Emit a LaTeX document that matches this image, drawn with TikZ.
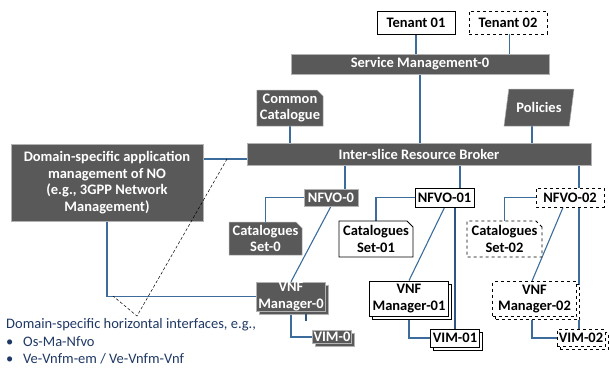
\documentclass[tikz,border=0pt]{standalone}
\usepackage{fontspec}
\setmainfont{Carlito}
\usetikzlibrary{shapes.misc,shapes.geometric,shadows,backgrounds}
\definecolor{boxgray}{HTML}{595959}
\definecolor{linkblue}{HTML}{3B6C9C}
\definecolor{darklink}{HTML}{2F5583}
\definecolor{navytext}{HTML}{1F3864}
\begin{document}
\begin{tikzpicture}[x=1pt,y=-1pt,
  base/.style={inner sep=0pt, align=center, font=\fontsize{14.5}{16.7}\selectfont\bfseries},
  darknode/.style={base, fill=boxgray, draw=white!70!black, line width=0.5pt, text=white},
  whitenode/.style={base, fill=white, draw=black, line width=0.9pt},
  dashnode/.style={whitenode, dashed},
  docshape/.style={chamfered rectangle, chamfered rectangle corners=north east, chamfered rectangle xsep=3pt, chamfered rectangle ysep=3pt},
  stack/.style={copy shadow={shadow xshift=3pt, shadow yshift=-3pt}},
  link/.style={draw=linkblue, line width=1.1pt},
  thicklink/.style={draw=darklink, line width=1.8pt},
  callout/.style={draw=black, line width=0.5pt, dash pattern=on 3pt off 2pt}
]
\useasboundingbox (0,0) rectangle (609,368);
% top
\node[whitenode, minimum width=78pt, minimum height=23pt] (ten1) at (416,22.5) {Tenant 01};
\node[dashnode, minimum width=78pt, minimum height=23pt] (ten2) at (508,22.5) {Tenant 02};
\node[darknode, minimum width=258pt, minimum height=20pt] (sm) at (420,64) {Service Management-0};
\node[darknode, docshape, minimum width=66pt, minimum height=36pt] (cc) at (290,108) {Common\\Catalogue};
\node[darknode, trapezium, trapezium left angle=65, trapezium right angle=115, trapezium stretches body, minimum width=70pt, minimum height=37pt] (pol) at (539,107.5) {Policies};
\node[darknode, minimum width=344pt, minimum height=22pt] (brk) at (419,154) {Inter-slice Resource Broker};
\node[darknode, minimum width=192pt, minimum height=77pt] (dom) at (107,182.5) {Domain-specific application\\management of NO\\(e.g., 3GPP Network\\Management)};
% slice 0
\node[darknode, minimum width=54pt, minimum height=17pt] (nfvo0) at (331,197.5) {NFVO-0};
\node[darknode, docshape, minimum width=73pt, minimum height=33pt] (cat0) at (265.5,238.5) {Catalogues\\Set-0};
\node[darknode, stack, minimum width=69pt, minimum height=29pt] (vnfm0) at (291,296.5) {VNF\\Manager-0};
\node[darknode, stack, minimum width=39pt, minimum height=13pt] (vim0) at (332,337) {VIM-0};
% slice 01
\node[whitenode, minimum width=59pt, minimum height=19pt] (nfvo01) at (444.5,197.5) {NFVO-01};
\node[whitenode, docshape, minimum width=74pt, minimum height=36pt] (cat01) at (376,239) {Catalogues\\Set-01};
\node[whitenode, stack, minimum width=79pt, minimum height=35pt] (vnfm01) at (409,298.5) {VNF\\Manager-01};
\node[whitenode, stack, minimum width=49pt, minimum height=18pt] (vim01) at (455,338) {VIM-01};
% slice 02
\node[dashnode, minimum width=68pt, minimum height=19pt] (nfvo02) at (570,197.5) {NFVO-02};
\node[dashnode, docshape, minimum width=75pt, minimum height=36pt] (cat02) at (504.5,239) {Catalogues\\Set-02};
\node[dashnode, stack, minimum width=84pt, minimum height=35pt] (vnfm02) at (534.5,299) {VNF\\Manager-02};
\node[dashnode, stack, minimum width=48pt, minimum height=17pt] (vim02) at (581,338) {VIM-02};
% text
\node[anchor=west, align=left, text=navytext, font=\fontsize{14.5}{17.5}\selectfont, inner sep=0pt] (txt) at (6,341.5)
  {Domain-specific horizontal interfaces, e.g.,\\\makebox[17pt][l]{\textbullet}Os-Ma-Nfvo\\\makebox[17pt][l]{\textbullet}Ve-Vnfm-em / Ve-Vnfm-Vnf};
\coordinate (dy) at (0,159);
\coordinate (ca) at (227,159);
\coordinate (cb) at (137,316);
\coordinate (cc2) at (113,296);
\begin{scope}[on background layer]
  \draw[link] (ten1.south) -- (ten1.south |- sm.north);
  \draw[link, line width=0.8pt] ([xshift=1pt]ten2.south) -- ([xshift=1pt]ten2.south |- sm.north);
  \draw[link] (sm.south) -- (sm.south |- brk.north);
  \draw[link] (cc.south) -- (cc.south |- brk.north);
  \draw[link] ([xshift=-7pt]pol.south) -- ([xshift=-7pt]pol.south |- brk.north);
  \draw[link] (dom.east |- dy) -- (brk.west |- dy);
  \draw[link] ([xshift=14pt]nfvo0.north |- brk.south) -- ([xshift=14pt]nfvo0.north);
  \draw[link] ([xshift=15.5pt]nfvo01.north |- brk.south) -- ([xshift=15.5pt]nfvo01.north);
  \draw[link] ([xshift=-2pt]vim02.north |- brk.south) -- ([xshift=-2pt]vim02.north);
  \draw[link] (nfvo0.west) -| (cat0.north);
  \draw[link] (nfvo01.west) -| (cat01.north);
  \draw[link] (nfvo02.west) -| (cat02.north);
  \draw[link] (nfvo0.south) -- (vnfm0.north);
  \draw[link] (nfvo01.south) -- (vnfm01.north);
  \draw[link] ([xshift=-7pt]nfvo02.south) -- ([xshift=-2.5pt]vnfm02.north);
  \draw[thicklink] (vim01.north |- nfvo01.south) -- (vim01.north);
  \draw[link] (vnfm0.south) |- (vim0.west);
  \draw[link] (vnfm01.south) |- (vim01.west);
  \draw[link] ([xshift=-2.5pt]vnfm02.south) |- (vim02.west);
  \draw[link] (dom.south) |- (vnfm0.west);
\end{scope}
\draw[thicklink, line width=1.5pt] ([xshift=15pt,yshift=-3pt]vnfm0.south) -- ++(0,7);
\draw[callout] (ca) -- (cb) -- (cc2);
\end{tikzpicture}
\end{document}
